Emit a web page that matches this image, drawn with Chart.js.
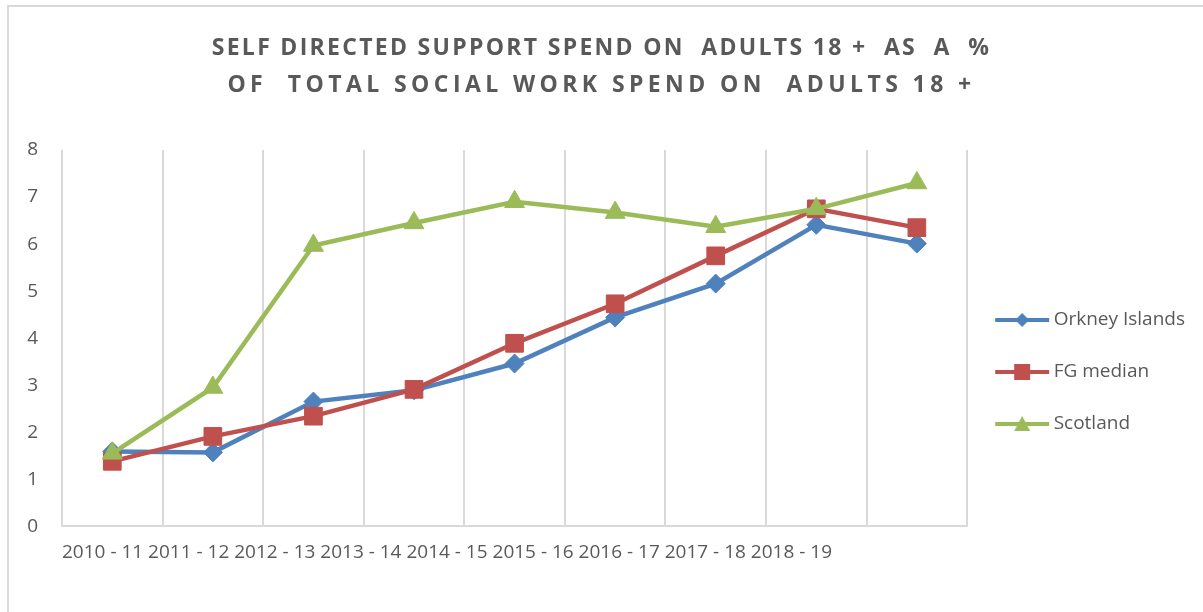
<!DOCTYPE html>
<html>
<head>
<meta charset="utf-8">
<script src="https://cdn.jsdelivr.net/npm/chart.js@4"></script>
<style>
  body { margin: 0; background: #fff; }
  #wrap { position: relative; width: 1203px; height: 612px; overflow: hidden; }
  #frame { position: absolute; left: 7px; top: 5px; width: 1300px; height: 700px;
           border-top: 2px solid #d9d9d9; border-left: 2px solid #d9d9d9; }
  #chart { position: absolute; left: 0; top: 0; }
</style>
</head>
<body>
<div id="wrap">
  <div id="frame"></div>
  <canvas id="chart" width="1203" height="612"></canvas>
</div>
<script>
// values
const categories = ['2010 - 11', '2011 - 12', '2012 - 13', '2013 - 14', '2014 - 15',
                    '2015 - 16', '2016 - 17', '2017 - 18', '2018 - 19'];
const orkney   = [1.59, 1.57, 2.65, 2.89, 3.46, 4.44, 5.16, 6.41, 6.01];
const fgMedian = [1.38, 1.91, 2.34, 2.91, 3.89, 4.73, 5.75, 6.75, 6.35];
const scotland = [1.55, 2.95, 5.97, 6.45, 6.90, 6.67, 6.37, 6.75, 7.30];
const yTicks = [0, 1, 2, 3, 4, 5, 6, 7, 8];

const titleLines = ['SELF DIRECTED SUPPORT SPEND ON  ADULTS 18 +  AS  A  %',
                    'OF  TOTAL SOCIAL WORK SPEND ON  ADULTS 18 +'];
const titleSpacings = ['2.3px', '4.4px'];

const BLUE = '#4f81bd', RED = '#c0504d', GREEN = '#9bbb59', TEXT = '#595959';
const FONT = "'Open Sans', sans-serif";

// little line+marker pictures for the legend, like Excel draws them
function legendIcon(color, shape) {
    const c = document.createElement('canvas');
    c.width = 56; c.height = 20;
    const g = c.getContext('2d');
    g.strokeStyle = color; g.fillStyle = color; g.lineWidth = 4;
    g.beginPath(); g.moveTo(1, 10); g.lineTo(55, 10); g.stroke();
    g.beginPath();
    if (shape === 'diamond') {
        g.moveTo(28, 3); g.lineTo(35, 10); g.lineTo(28, 17); g.lineTo(21, 10);
    } else if (shape === 'square') {
        g.rect(20, 2, 16, 16);
    } else {
        g.moveTo(28, 2); g.lineTo(36, 17); g.lineTo(20, 17);
    }
    g.closePath(); g.fill();
    return c;
}
const icons = [legendIcon(BLUE, 'diamond'), legendIcon(RED, 'square'), legendIcon(GREEN, 'triangle')];

// spaced-out title letters, each line with its own spacing
const titleSpacing = {
    id: 'titleSpacing',
    beforeDraw(chart) {
        const t = chart.titleBlock;
        if (t && !t._spaced) {
            const draw = t.draw;
            t.draw = function () {
                const ctx = this.ctx;
                const fill = ctx.fillText;
                ctx.save();
                ctx.fillText = function (text, x, y, w) {
                    const i = titleLines.indexOf(text);
                    ctx.letterSpacing = i >= 0 ? titleSpacings[i] : '0px';
                    return w === undefined ? fill.call(ctx, text, x, y) : fill.call(ctx, text, x, y, w);
                };
                draw.apply(this, arguments);
                delete ctx.fillText;
                ctx.restore();
            };
            t._spaced = true;
        }
    }
};

const ctx = document.getElementById('chart').getContext('2d');
new Chart(ctx, {
    type: 'line',
    data: {
        labels: categories,
        datasets: [
            { label: 'Orkney Islands', data: orkney, borderColor: BLUE, backgroundColor: BLUE,
              borderWidth: 4.5, pointStyle: 'rectRot', pointRadius: 9.5, pointBorderWidth: 1, order: 3 },
            { label: 'FG median', data: fgMedian, borderColor: RED, backgroundColor: RED,
              borderWidth: 4.5, pointStyle: 'rect', pointRadius: 12.5, pointBorderWidth: 1, order: 2 },
            { label: 'Scotland', data: scotland, borderColor: GREEN, backgroundColor: GREEN,
              borderWidth: 4.5, pointStyle: 'triangle', pointRadius: 11.5, pointBorderWidth: 1, order: 1 }
        ]
    },
    options: {
        responsive: false,
        animation: false,
        layout: { padding: { left: 8, right: 8, top: 0, bottom: 48 } },
        scales: {
            x: {
                offset: true,
                grid: { offset: true, color: '#d9d9d9', lineWidth: 2, drawTicks: false },
                border: { color: '#d9d9d9', width: 2 },
                ticks: { display: false },
                title: {
                    display: true,
                    align: 'start',
                    text: categories.join(' '),
                    color: TEXT,
                    font: { family: FONT, size: 19 },
                    padding: { top: 15, bottom: 0 }
                }
            },
            y: {
                min: 0, max: 8,
                afterBuildTicks(scale) { scale.ticks = yTicks.map(v => ({ value: v })); },
                afterFit(scale) { scale.width = 54; },
                grid: { display: false, drawTicks: false },
                border: { display: false },
                ticks: { color: TEXT, font: { family: FONT, size: 19 }, padding: 24 }
            }
        },
        plugins: {
            title: {
                display: true,
                text: titleLines,
                color: TEXT,
                font: { family: FONT, size: 23, weight: 'bold', lineHeight: 1.61 },
                padding: { top: 30, bottom: 46 }
            },
            legend: {
                position: 'right',
                title: { display: true, text: ' ', font: { size: 10 }, padding: { top: 0, bottom: 168 } },
                labels: {
                    usePointStyle: true,
                    pointStyleWidth: 44,
                    padding: 33,
                    color: TEXT,
                    font: { family: FONT, size: 19 },
                    sort: (a, b) => a.datasetIndex - b.datasetIndex,
                    generateLabels(chart) {
                        const items = Chart.defaults.plugins.legend.labels.generateLabels(chart);
                        items.forEach(it => { it.pointStyle = icons[it.datasetIndex]; });
                        return items;
                    }
                }
            },
            tooltip: { enabled: false }
        }
    },
    plugins: [titleSpacing]
});
</script>
</body>
</html>
